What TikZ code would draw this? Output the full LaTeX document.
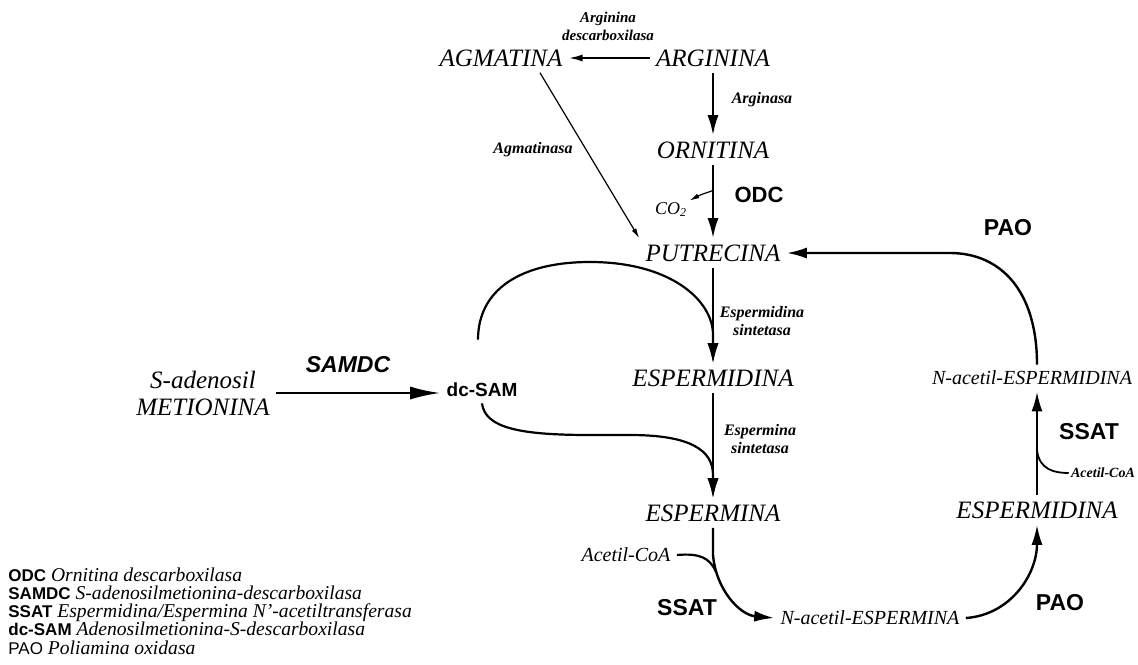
\documentclass[tikz,border=0pt]{standalone}
\usepackage{fontspec}
\setmainfont{Liberation Serif}
\setsansfont{Liberation Sans}
\usetikzlibrary{arrows.meta,calc}

\tikzset{
  met/.style={font=\fontsize{12.5}{13.5}\selectfont\itshape, inner sep=3pt, align=center},
  metp/.style={font=\fontsize{10}{12}\selectfont\itshape, inner sep=3pt},
  enz/.style={font=\fontsize{8}{9}\selectfont\bfseries\itshape, align=center, inner sep=1pt},
  sigla/.style={font=\fontsize{11.5}{13}\selectfont\sffamily\bfseries, inner sep=1pt},
  leyenda/.style={anchor=west, inner sep=0pt, text height=6.8pt, text depth=1.8pt, font=\fontsize{9.8}{11}\selectfont},
  flecha/.style={line width=1.2pt, -{Latex[length=10pt,width=5.5pt]}},
  media/.style={line width=0.9pt, -{Latex[length=7pt,width=3.5pt]}},
  fina/.style={line width=0.6pt, -{Latex[length=5pt,width=2.5pt]}}
}

\begin{document}
\begin{tikzpicture}[x=0.5pt, y=-0.5pt]
                    \useasboundingbox (0,0) rectangle (1138,664);
                    \node[met] (arg) at (713,58) {ARGININA};
                    \node[met] (agm) at (501,58) {AGMATINA};
                    \node[met] (orn) at (713,150) {ORNITINA};
                    \node[met] (put) at (713,253) {PUTRECINA};
                    \node[met] (spd) at (713,378) {ESPERMIDINA};
                    \node[met] (spm) at (713,513) {ESPERMINA};
                    \node[metp] (nspm) at (870,618) {N-acetil-ESPERMINA};
                    \node[met] (spd2) at (1037,510) {ESPERMIDINA};
                    \node[metp] (nspd) at (1032,378) {N-acetil-ESPERMIDINA};
                    \node[met] (sam) at (203,393) {S-adenosil\\METIONINA};
                    \node[font=\fontsize{9.5}{11}\selectfont\sffamily\bfseries, inner sep=3pt] (dcsam) at (482,390) {dc-SAM};
                    \node[metp] (acoa) at (626,555) {Acetil-CoA};
                    \node[enz, font=\fontsize{7}{8}\selectfont\bfseries\itshape] (acoa2) at (1103,473) {Acetil-CoA};
                    \node[font=\fontsize{9}{10}\selectfont\itshape, inner sep=1pt] (co2) at (671,210) {CO\textsubscript{2}};

                    \node[enz, font=\fontsize{7.5}{9}\selectfont\bfseries\itshape] (argdc) at (608,26) {Arginina\\descarboxilasa};
                    \node[enz] (arginasa) at (762,100) {Arginasa};
                    \node[enz] (agmasa) at (533,150) {Agmatinasa};
                    \node[enz] (spdsint) at (762,321) {Espermidina\\sintetasa};
                    \node[enz] (spmsint) at (760,439) {Espermina\\sintetasa};
                    \node[sigla, font=\fontsize{11}{13}\selectfont\sffamily\bfseries] (odc) at (759,195) {ODC};
                    \node[sigla] (pao1) at (1008,228) {PAO};
                    \node[sigla] (pao2) at (1060,603) {PAO};
                    \node[sigla] (ssat1) at (1089,432) {SSAT};
                    \node[sigla] (ssat2) at (687,608) {SSAT};
                    \node[sigla, font=\fontsize{11.5}{13}\selectfont\sffamily\bfseries\itshape] (samdc) at (348,365) {SAMDC};

                    \draw[media] (arg) -- (agm);
                    \draw[flecha] (arg) -- (orn);
                    \draw[flecha] (orn) -- (put);
                    \coordinate (ramaco) at ($(orn.south)!0.35!(put.north)$);
                    \draw[fina] (ramaco) .. controls (700,195) .. (co2.north east);
                    \draw[fina] ($(agm.south)+(39,0)$) -- (put.north west);
                    \draw[flecha] (put) -- (spd);
                    \draw[flecha] (spd) -- (spm);
                    \draw[flecha, -{Latex[length=15pt,width=6.5pt]}] (sam.east) -- (sam.east -| dcsam.west);
                    \draw[flecha, line width=1.1pt] ($(dcsam.north)+(-4,-37)$) .. controls (478,290) and (520,262) .. (590,262)
                        .. controls (670,262) and (713,300) .. (713,335) -- (spd.north);
                    \draw[flecha, line width=1.1pt] (dcsam.south) .. controls (485,428) and (520,435) .. (590,435) -- (630,435)
                        .. controls (690,435) and (713,450) .. (713,475) -- (spm.north);
                    \draw[flecha] (spm.south) -- (713,555) .. controls (716,590) and (740,615) .. (nspm.west);
                    \draw[line width=1.1pt] (acoa.east) .. controls (700,553) and (710,558) .. (716,572);
                    \draw[flecha] (nspm.east) .. controls (1010,615) and (1037,575) .. (spd2.south);
                    \draw[flecha] (spd2.north) -- (spd2.north |- nspd.south);
                    \coordinate (ramaac) at (1037,450);
                    \draw[line width=0.9pt] (ramaac) .. controls (1039,470) and (1055,473) .. (acoa2.west);
                    \draw[flecha] (nspd.north -| spd2.north) .. controls (1037,290) and (1000,253) .. (950,253) -- (put.east);

                    \foreach \ab/\full [count=\i from 0] in {ODC/Ornitina descarboxilasa, SAMDC/S-adenosilmetionina-descarboxilasa,
                        SSAT/{Espermidina/Espermina N'-acetiltransferasa}, dc-SAM/Adenosilmetionina-S-descarboxilasa,
                        {\mdseries PAO}/Poliamina oxidasa}
                    \node[leyenda] (ley\i) at (8,{576+18.3*\i}) {\textsf{\fontsize{8.5}{10}\selectfont\bfseries \ab} \textit{\full}};
                \end{tikzpicture}
\end{document}
